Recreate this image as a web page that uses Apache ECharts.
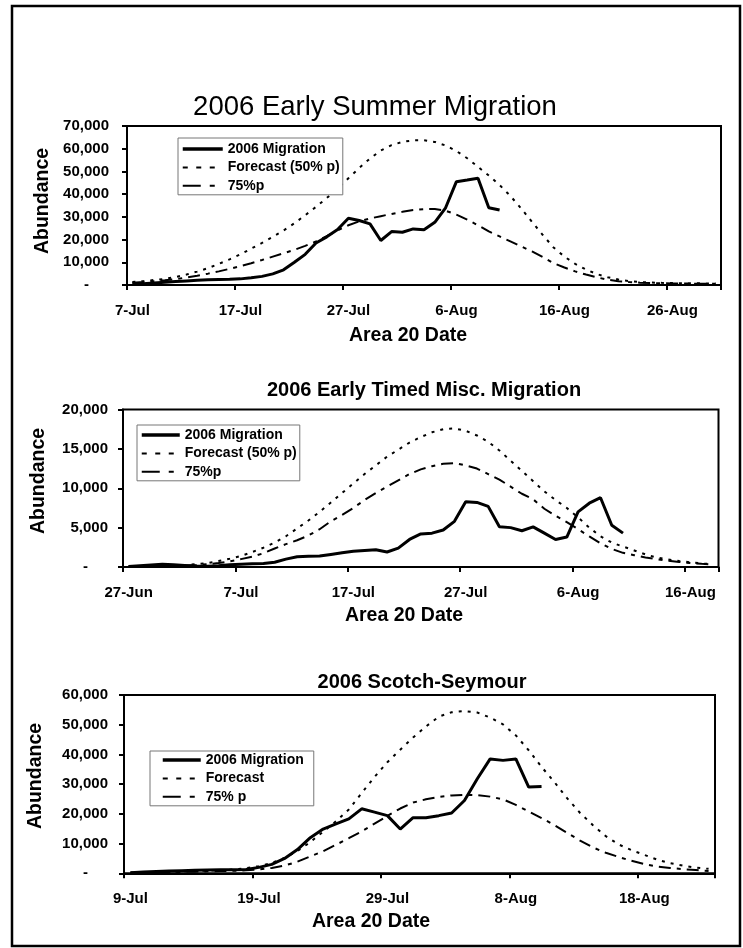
<!DOCTYPE html>
<html><head><meta charset="utf-8">
<script src="https://cdn.jsdelivr.net/npm/echarts@6/dist/echarts.min.js"></script>
<style>html,body{margin:0;padding:0;background:#fff}#c{width:743px;height:948px}</style>
</head><body><div id="c"></div>
<script>
// ---------- Chart 1: 2006 Early Summer Migration ----------
const dates1 = ['7-Jul','8-Jul','9-Jul','10-Jul','11-Jul','12-Jul','13-Jul','14-Jul','15-Jul','16-Jul','17-Jul','18-Jul','19-Jul','20-Jul','21-Jul','22-Jul','23-Jul','24-Jul','25-Jul','26-Jul','27-Jul','28-Jul','29-Jul','30-Jul','31-Jul',
  '1-Aug','2-Aug','3-Aug','4-Aug','5-Aug','6-Aug','7-Aug','8-Aug','9-Aug','10-Aug','11-Aug','12-Aug','13-Aug','14-Aug','15-Aug','16-Aug','17-Aug','18-Aug','19-Aug','20-Aug','21-Aug','22-Aug','23-Aug','24-Aug','25-Aug','26-Aug','27-Aug','28-Aug','29-Aug','30-Aug'];
const migration1 = [400,600,900,1200,1500,1800,2100,2300,2400,2500,2700,3200,3800,4900,6700,10000,13500,18500,21200,24400,29400,28400,26900,19600,23500,23200,24700,24300,27600,34000,45500,46200,47000,34000,33000];
const forecast1 = [1300,1700,2200,2700,3500,4600,5900,7400,9300,11300,13500,16000,18500,21200,24000,27200,30700,34400,38300,42500,47000,51500,55700,59200,61600,63000,63700,63700,63000,61400,59000,55800,52000,48200,44000,39200,33700,27800,22000,16500,12500,9300,6800,4800,3400,2400,1700,1300,1100,950,850,800,750,700,700];
const p75_1 = [1000,1300,1700,2100,2600,3300,4100,5000,6000,7100,8300,9600,11000,12500,14000,15500,17200,19200,21500,24000,26300,28000,29300,30300,31300,32200,33000,33400,33500,32700,31000,28800,26300,23600,21400,19200,17000,14800,12300,9600,7700,6000,4600,3400,2300,1700,1300,1000,850,750,700,650,600,600,600];

// ---------- Chart 2: 2006 Early Timed Misc. Migration ----------
const dates2 = ['27-Jun','28-Jun','29-Jun','30-Jun',
  '1-Jul','2-Jul','3-Jul','4-Jul','5-Jul','6-Jul','7-Jul','8-Jul','9-Jul','10-Jul','11-Jul','12-Jul','13-Jul','14-Jul','15-Jul','16-Jul','17-Jul','18-Jul','19-Jul','20-Jul','21-Jul','22-Jul','23-Jul','24-Jul','25-Jul','26-Jul','27-Jul','28-Jul','29-Jul','30-Jul','31-Jul',
  '1-Aug','2-Aug','3-Aug','4-Aug','5-Aug','6-Aug','7-Aug','8-Aug','9-Aug','10-Aug','11-Aug','12-Aug','13-Aug','14-Aug','15-Aug','16-Aug','17-Aug','18-Aug'];
const migration2 = [50,150,250,350,300,200,100,100,150,300,350,400,450,600,1000,1300,1350,1400,1600,1800,2000,2100,2200,1900,2400,3500,4200,4300,4700,5800,8300,8200,7700,5100,5000,4600,5100,4300,3500,3800,7000,8100,8800,5300,4300];
const forecast2 = [100,100,100,150,200,250,350,500,750,1050,1400,1900,2450,3100,3900,4900,5900,7000,8200,9400,10600,11800,12900,14000,14900,15800,16500,17100,17500,17600,17300,16700,15900,14800,13500,12200,10900,9600,8500,7500,6300,5000,3900,3100,2600,2100,1600,1200,950,750,600,450,350];
const p75_2 = [100,100,100,120,150,200,260,350,500,720,1000,1300,1750,2350,2900,3400,4000,4800,5800,6600,7500,8500,9400,10200,11000,11800,12400,12800,13100,13200,12900,12500,11800,11100,10200,9300,8600,7400,6500,5700,4800,3900,3000,2300,1800,1500,1200,1000,800,650,500,400,320];

// ---------- Chart 3: 2006 Scotch-Seymour ----------
const dates3 = ['9-Jul','10-Jul','11-Jul','12-Jul','13-Jul','14-Jul','15-Jul','16-Jul','17-Jul','18-Jul','19-Jul','20-Jul','21-Jul','22-Jul','23-Jul','24-Jul','25-Jul','26-Jul','27-Jul','28-Jul','29-Jul','30-Jul','31-Jul',
  '1-Aug','2-Aug','3-Aug','4-Aug','5-Aug','6-Aug','7-Aug','8-Aug','9-Aug','10-Aug','11-Aug','12-Aug','13-Aug','14-Aug','15-Aug','16-Aug','17-Aug','18-Aug','19-Aug','20-Aug','21-Aug','22-Aug','23-Aug'];
const migration3 = [200,400,600,800,900,1000,1100,1200,1200,1300,2000,3000,5000,8000,12000,14900,16600,18300,21700,20600,19400,14900,18700,18700,19400,20300,24500,31800,38500,38000,38500,29000,29200];
const forecast3 = [150,250,350,450,600,750,900,1000,1300,1700,2400,3500,5200,7500,10500,14000,17500,21500,27000,32400,37400,41600,45700,49400,52700,54200,54600,54100,52400,50100,46400,41400,35800,30700,25200,20300,16200,12500,9700,7800,6200,4600,3400,2600,1900,1500];
const p75_3 = [200,250,300,400,450,550,650,750,850,1000,1300,1800,2600,3900,5700,7400,9600,11800,14100,16700,19300,21800,23800,24900,25700,26200,26400,26300,25800,24900,23000,20800,18600,16200,13600,11000,8700,6900,5500,4200,3100,2300,1800,1400,1100,800];

const titles = ['2006 Early Summer Migration','2006 Early Timed Misc. Migration','2006 Scotch-Seymour'];
const legendNames = [['2006 Migration','Forecast (50% p)','75%p'],['2006 Migration','Forecast (50% p)','75%p'],['2006 Migration','Forecast','75% p']];
const xTitle = 'Area 20 Date';
const yTitle = 'Abundance';
const yMax = [70000, 20000, 60000];
const yStep = [10000, 5000, 10000];

const FF = '"Liberation Sans", Arial, Helvetica, sans-serif';
const grids = [
  {left:127, top:126, width:594, height:159},
  {left:123, top:409.5, width:595.5, height:157.5},
  {left:124, top:695, width:591, height:178.3}
];
const cats = [dates1, dates2, dates3];
const mig = [migration1, migration2, migration3];
const fc = [forecast1, forecast2, forecast3];
const p75 = [p75_1, p75_2, p75_3];

function yFmt(v){ return v === 0 ? '{z|-}' : '{n|' + v.toLocaleString('en-US') + '}'; }
const labelFont = {fontFamily:FF, fontWeight:'bold', fontSize:15, color:'#000'};

// legend sample line styles (drawn by ECharts legend icons)
const legendLine = [
  {color:'#000', width:3.5, type:'solid'},
  {color:'#000', width:2, type:[5,8.5]},
  {color:'#000', width:2, type:[18,9,5,14]}
];

const option = {
  animation:false,
  backgroundColor:'#fff',
  color:['#000','#000','#000'],
  grid: grids.map(g => Object.assign({show:true, borderColor:'#000', borderWidth:2, containLabel:false}, g)),
  xAxis: cats.map((c,i) => ({
    type:'category', gridIndex:i, data:c, boundaryGap:true,
    axisLine:{show:true, lineStyle:{color:'#000', width:2}},
    axisTick:{show:true, interval:9, length:5, lineStyle:{color:'#000', width:2}},
    axisLabel:Object.assign({interval:9, margin:18}, labelFont),
    splitLine:{show:false}
  })),
  yAxis: yMax.map((m,i) => ({
    type:'value', gridIndex:i, min:0, max:m, interval:yStep[i],
    axisLine:{show:true, lineStyle:{color:'#000', width:2}},
    axisTick:{show:true, length:5, lineStyle:{color:'#000', width:2}},
    splitLine:{show:false},
    axisLabel:Object.assign({margin:[18,15,16][i], formatter:yFmt,
      rich:{z:Object.assign({padding:[0,20,0,0]}, labelFont), n:Object.assign({}, labelFont)}}, labelFont)
  })),
  legend: [
    {left:178, top:138, padding:[4,3,2,3], itemWidth:40},
    {left:137, top:425, padding:[3,3,2,3], itemWidth:38},
    {left:150, top:751, padding:[2,10,2,11], itemWidth:38}
  ].map((l,i) => Object.assign({
    orient:'vertical',
    data:legendNames[i].map((n,k) => ({name:n, lineStyle:legendLine[k], itemStyle:{opacity:0}})),
    itemHeight:14, itemGap:4.4, selectedMode:false,
    borderColor:'#777', borderWidth:1, backgroundColor:'#fff',
    itemStyle:{opacity:0},
    textStyle:{fontFamily:FF, fontWeight:'bold', fontSize:14, color:'#000'}
  }, l)),
  series: [],
  graphic: []
};

for (let i = 0; i < 3; i++) {
  option.series.push({
    name:legendNames[i][1], type:'line', xAxisIndex:i, yAxisIndex:i, data:fc[i], symbol:'none', z:3,
    itemStyle:{color:'#000'},
    lineStyle:{color:'#000', width:2, type:[3,6]}
  });
  option.series.push({
    name:legendNames[i][2], type:'line', xAxisIndex:i, yAxisIndex:i, data:p75[i], symbol:'none', z:3,
    itemStyle:{color:'#000'},
    lineStyle:{color:'#000', width:2, type:[12,6,4,6]}
  });
  option.series.push({
    name:legendNames[i][0], type:'line', xAxisIndex:i, yAxisIndex:i, data:mig[i], symbol:'none', z:4,
    itemStyle:{color:'#000'},
    lineStyle:{color:'#000', width:3}
  });
}

const g = option.graphic;
g.push({type:'rect', shape:{x:12, y:6, width:728, height:940}, style:{fill:'none', stroke:'#000', lineWidth:2.5}, z:-1});
g.push({type:'text', x:375, y:107, style:{text:titles[0], font:'normal 27.5px ' + FF, fill:'#000', align:'center', verticalAlign:'middle'}});
g.push({type:'text', x:424, y:390, style:{text:titles[1], font:'bold 20px ' + FF, fill:'#000', align:'center', verticalAlign:'middle'}});
g.push({type:'text', x:422, y:682, style:{text:titles[2], font:'bold 20px ' + FF, fill:'#000', align:'center', verticalAlign:'middle'}});
[[408,336],[404,616],[371,922]].forEach(p => g.push({type:'text', x:p[0], y:p[1], style:{text:xTitle, font:'bold 19.5px ' + FF, fill:'#000', align:'center', verticalAlign:'middle'}}));
[[43,201],[39,481],[36,776]].forEach(p => g.push({type:'text', x:p[0], y:p[1], rotation:Math.PI/2, style:{text:yTitle, font:'bold 19.5px ' + FF, fill:'#000', align:'center', verticalAlign:'middle'}}));

const chart = echarts.init(document.getElementById('c'), null, {renderer:'canvas'});
chart.setOption(option);
</script>
</body></html>
